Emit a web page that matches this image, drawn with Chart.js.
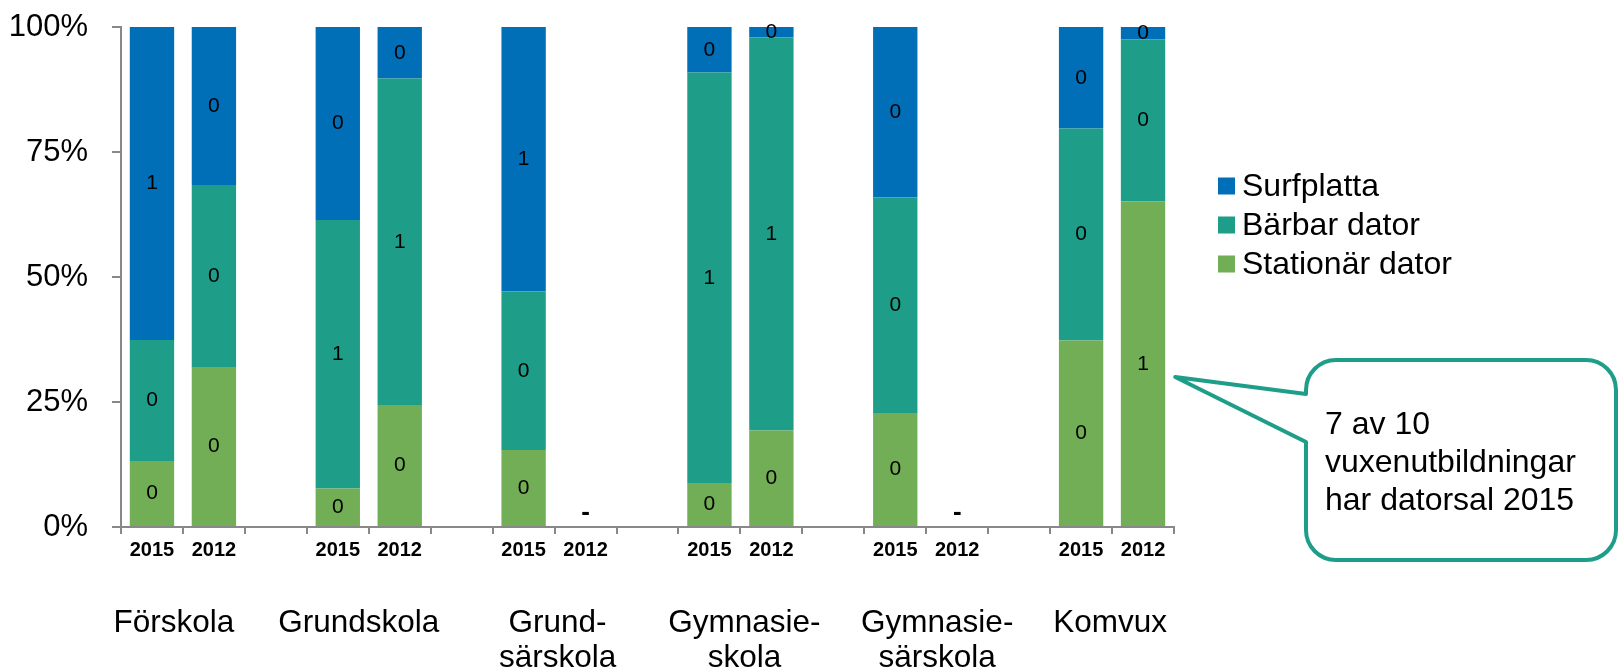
<!DOCTYPE html>
<html lang="sv">
<head>
<meta charset="utf-8">
<title>Datorer i skolan 2015 och 2012</title>
<script src="https://cdn.jsdelivr.net/npm/chart.js@4.4.1/dist/chart.umd.min.js"></script>
<style>
  html, body { margin: 0; padding: 0; background: #fff; }
  #wrap { width: 1619px; height: 672px; position: relative; }
</style>
</head>
<body>
<div id="wrap"><canvas id="chart"></canvas></div>
<script>
// x slots: 2015 / 2012 per school form, with an empty slot between groups
const years = ['2015', '2012', '', '2015', '2012', '', '2015', '2012', '', '2015', '2012', '', '2015', '2012', '', '2015', '2012'];
const groups = ['Förskola', 'Grundskola', ['Grund-', 'särskola'], ['Gymnasie-', 'skola'], ['Gymnasie-', 'särskola'], 'Komvux'];

// shares (0-1), null = no data / gap
const stationar  = [0.132, 0.320, null, 0.077, 0.244, null, 0.154, null, null, 0.088, 0.193, null, 0.228, null, null, 0.373, 0.651];
const barbar     = [0.242, 0.364, null, 0.537, 0.653, null, 0.317, null, null, 0.821, 0.786, null, 0.431, null, null, 0.424, 0.324];
const surfplatta = [0.626, 0.316, null, 0.386, 0.103, null, 0.529, null, null, 0.091, 0.021, null, 0.341, null, null, 0.203, 0.025];

const seriesNames = ['Stationär dator', 'Bärbar dator', 'Surfplatta'];
const seriesColors = ['#72ae55', '#1e9e89', '#006fb7'];
const yTicks = [0, 0.25, 0.5, 0.75, 1];
const calloutLines = ['7 av 10', 'vuxenutbildningar', 'har datorsal 2015'];

const FONT = '"Liberation Sans", Arial, sans-serif';
const AXIS = '#888888';

/**
 * value labels inside the segments + "-" for missing years
 */
const valueLabels = {
    id: 'valueLabels',
    afterDatasetsDraw(chart) {
        const ctx = chart.ctx;
        ctx.save();
        ctx.fillStyle = '#000';
        ctx.textAlign = 'center';
        ctx.textBaseline = 'middle';
        ctx.font = '21px ' + FONT;
        chart.data.datasets.forEach((ds, di) => {
            chart.getDatasetMeta(di).data.forEach((bar, i) => {
                const v = ds.data[i];
                if (v == null) return;
                ctx.fillText(String(Math.round(v)), bar.x, (bar.y + bar.base) / 2);
            });
        });
        // missing values
        const x = chart.scales.x, y = chart.scales.y;
        ctx.font = 'bold 26px ' + FONT;
        years.forEach((lab, i) => {
            if (!lab) return;
            const empty = chart.data.datasets.every(ds => ds.data[i] == null);
            if (empty) ctx.fillText('-', x.getPixelForValue(i), y.bottom - 14);
        });
        ctx.restore();
    }
};

/**
 * group names under the year labels, legend on the right and the callout
 */
const groupShift = [-9, -10, 3, 4, 11, -2];   // text boxes were placed by hand in the original

const extras = {
    id: 'extras',
    afterDraw(chart) {
        const ctx = chart.ctx;
        const x = chart.scales.x, y = chart.scales.y;
        const area = chart.chartArea;
        ctx.save();
        ctx.fillStyle = '#000';

        // group labels
        ctx.font = '31.5px ' + FONT;
        ctx.textAlign = 'center';
        ctx.textBaseline = 'middle';
        groups.forEach((g, i) => {
            const cx = (x.getPixelForValue(3 * i) + x.getPixelForValue(3 * i + 1)) / 2 + groupShift[i];
            const lines = Array.isArray(g) ? g : [g];
            lines.forEach((t, k) => ctx.fillText(t, cx, area.bottom + 96 + k * 35));
        });

        // legend (top series first)
        ctx.textAlign = 'left';
        ctx.font = '32px ' + FONT;
        const lx = area.right + 44;
        [2, 1, 0].forEach((di, row) => {
            const cy = 186 + row * 39;
            ctx.fillStyle = chart.data.datasets[di].backgroundColor;
            ctx.fillRect(lx, cy - 8.5, 17, 17);
            ctx.fillStyle = '#000';
            ctx.fillText(chart.data.datasets[di].label, lx + 24, cy + 1);
        });

        // callout pointing at Komvux 2012
        const bar = chart.getDatasetMeta(0).data[16];
        const tipX = bar.x + bar.width / 2 + 10;
        const tipY = y.getPixelForValue(0.3);
        const x0 = 1306, y0 = 360, x1 = 1616, y1 = 560, r = 30;
        ctx.beginPath();
        ctx.moveTo(x0 + r, y0);
        ctx.lineTo(x1 - r, y0);
        ctx.arcTo(x1, y0, x1, y0 + r, r);
        ctx.lineTo(x1, y1 - r);
        ctx.arcTo(x1, y1, x1 - r, y1, r);
        ctx.lineTo(x0 + r, y1);
        ctx.arcTo(x0, y1, x0, y1 - r, r);
        ctx.lineTo(x0, 442);
        ctx.lineTo(tipX, tipY);
        ctx.lineTo(x0, 394);
        ctx.lineTo(x0, y0 + r);
        ctx.arcTo(x0, y0, x0 + r, y0, r);
        ctx.closePath();
        ctx.fillStyle = '#fff';
        ctx.fill();
        ctx.lineWidth = 4;
        ctx.lineJoin = 'round';
        ctx.strokeStyle = '#1e9e89';
        ctx.stroke();

        ctx.fillStyle = '#000';
        ctx.font = '32px ' + FONT;
        ctx.textBaseline = 'alphabetic';
        calloutLines.forEach((t, k) => ctx.fillText(t, x0 + 19, 434 + k * 38));
        ctx.restore();
    }
};

const ctx = document.getElementById('chart').getContext('2d');
new Chart(ctx, {
    type: 'bar',
    data: {
        labels: years,
        datasets: [
            { label: seriesNames[0], data: stationar, backgroundColor: seriesColors[0] },
            { label: seriesNames[1], data: barbar, backgroundColor: seriesColors[1] },
            { label: seriesNames[2], data: surfplatta, backgroundColor: seriesColors[2] }
        ]
    },
    options: {
        responsive: true,
        maintainAspectRatio: false,
        animation: false,
        devicePixelRatio: 1,
        layout: { padding: { top: 27, right: 445, bottom: 0, left: 0 } },
        datasets: { bar: { barPercentage: 0.716, categoryPercentage: 1, borderWidth: 0 } },
        plugins: { legend: { display: false }, tooltip: { enabled: false } },
        scales: {
            x: {
                stacked: true,
                grid: { display: true, drawOnChartArea: false, offset: true, tickLength: 7, color: AXIS, lineWidth: 2 },
                border: { color: AXIS, width: 2 },
                ticks: {
                    autoSkip: false, maxRotation: 0, padding: 4, color: '#000',
                    font: { family: FONT, size: 20, weight: 'bold' }
                },
                afterFit(scale) { scale.height = 145; scale.paddingLeft = 0; scale.paddingRight = 0; }
            },
            y: {
                stacked: true,
                min: 0,
                max: 1,
                grid: { drawOnChartArea: false, tickLength: 9, color: AXIS, lineWidth: 2 },
                border: { color: AXIS, width: 2 },
                afterBuildTicks(scale) { scale.ticks = yTicks.map(v => ({ value: v })); },
                ticks: {
                    padding: 24, color: '#000',
                    font: { family: FONT, size: 31 },
                    callback: v => Math.round(v * 100) + '%'
                },
                afterFit(scale) { scale.width = 121; scale.paddingTop = 0; scale.paddingBottom = 0; }
            }
        }
    },
    plugins: [valueLabels, extras]
});
</script>
</body>
</html>
